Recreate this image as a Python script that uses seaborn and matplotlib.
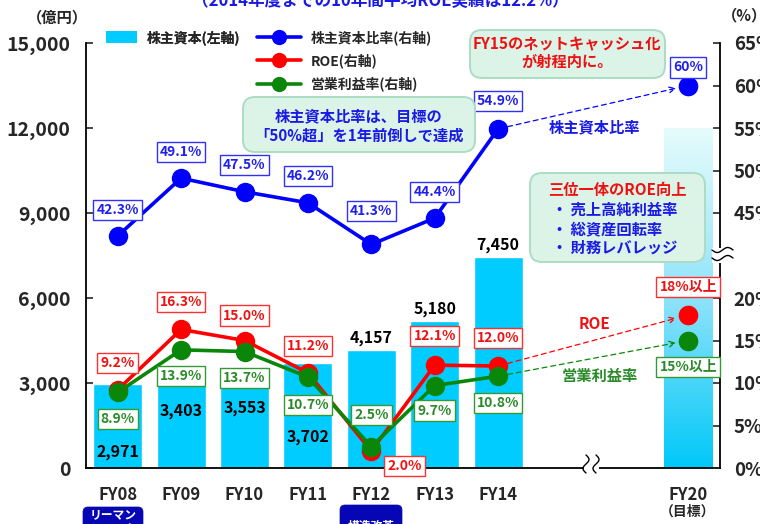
import numpy as np
import matplotlib
matplotlib.use('Agg')
import matplotlib.pyplot as plt
import seaborn as sns
from matplotlib.patches import Patch, FancyBboxPatch, Rectangle
from matplotlib.lines import Line2D
from matplotlib.colors import LinearSegmentedColormap
from matplotlib.transforms import IdentityTransform

# data
years = ['FY08', 'FY09', 'FY10', 'FY11', 'FY12', 'FY13', 'FY14', 'FY20']
equity = [2971, 3403, 3553, 3702, 4157, 5180, 7450, 12000]      # 億円
equity_ratio = [42.3, 49.1, 47.5, 46.2, 41.3, 44.4, 54.9]      # %
roe = [9.2, 16.3, 15.0, 11.2, 2.0, 12.1, 12.0]
op_margin = [8.9, 13.9, 13.7, 10.7, 2.5, 9.7, 10.8]
target_ratio = 60
target_roe = 18
target_margin = 15
target_labels = ['60%', '18%以上', '15%以上']

# layout (FY20 sits after a break in the x axis)
xpos = [0, 1, 2, 3, 4, 5, 6, 9]
bar_label_y = [560, 2010, 2120, 1090, 4590, 5610, 7870]
ratio_dy = [19, 19, 19, 19, 24, 19, 20]
roe_dx = [0, 0, 0, 0, 24, 0, 0]
roe_dy = [19, 20, 18, 19, -11, 21, 20]
margin_dy = [-19, -19, -19, -20, 23, -18, -19]

W, H = 760, 524
BLUE = '#0000ff'
RED = '#ff0000'
GREEN = '#0a870a'
CYAN = '#00ccff'

sns.set_style('white')
plt.rcParams['font.family'] = ['Noto Sans CJK JP', 'DejaVu Sans']
plt.rcParams['font.weight'] = 'bold'


def fx(x):
    return x / W


def fy(y):
    return 1 - y / H


# piecewise right axis: 0-20% in the lower part, 40%+ in the upper part
rv = [-100, 0, 20, 40, 200]
ry = [-30000, 0, 6000, 7500, 55500]


def fwd(v):
    return np.interp(v, rv, ry)


def inv(y):
    return np.interp(y, ry, rv)


fig = plt.figure(figsize=(W / 100, H / 100), dpi=100)
ax = fig.add_axes([fx(86), fy(468), (720 - 86) / W, (468 - 43) / H])

sns.barplot(x=xpos, y=equity, native_scale=True, orient='x', color=CYAN,
            saturation=1, width=0.77, errorbar=None, ax=ax)

# FY20 target bar with a gradient fill
bar20 = ax.patches[-1]
bar20.set_facecolor('none')
cmap = LinearSegmentedColormap.from_list('g', ['#00c8f8', '#8fe3fa', '#e6fcfc'])
grad = np.linspace(0, 1, 256).reshape(-1, 1)
im = ax.imshow(grad, extent=[bar20.get_x(), bar20.get_x() + bar20.get_width(), 0, bar20.get_height()],
               origin='lower', cmap=cmap, aspect='auto', zorder=bar20.get_zorder())
im.set_clip_path(bar20)

ax.set_xlim(-0.5, 9.5)
ax.set_ylim(0, 15000)
ax.set_yticks(range(0, 15001, 3000))
ax.set_yticklabels([f'{v:,}' for v in range(0, 15001, 3000)], fontsize=14)
ax.tick_params(axis='y', direction='in', length=5, width=1.2, pad=11)
ax.set_xticks([0.5, 1.5, 2.5, 3.5, 4.5, 5.5, 6.5, 8.5])
ax.set_xticklabels([])
ax.set_xticks(xpos, years, minor=True)
ax.tick_params(axis='x', which='major', direction='in', length=5, width=1.2)
ax.tick_params(axis='x', which='minor', length=0, pad=13, labelsize=12)
ax.set_xlabel('')
ax.set_ylabel('')
for s in ['top', 'right']:
    ax.spines[s].set_visible(False)
for s in ['left', 'bottom']:
    ax.spines[s].set_linewidth(1.3)
    ax.spines[s].set_color('black')

for i in range(7):
    ax.text(xpos[i], bar_label_y[i], f'{equity[i]:,}', ha='center', va='center',
            fontsize=11.5, color='black')

# right axis
ax2 = ax.twinx()
ax2.set_yscale('function', functions=(fwd, inv))
ax2.set_ylim(0, 65)
rticks = [0, 5, 10, 15, 20, 45, 50, 55, 60, 65]
ax2.set_yticks(rticks)
ax2.set_yticklabels([f'{v}%' for v in rticks], fontsize=13.5)
ax2.tick_params(axis='y', direction='in', length=5, width=1.2, pad=10)
for s in ['top', 'left', 'bottom']:
    ax2.spines[s].set_visible(False)
ax2.spines['right'].set_linewidth(1.3)
ax2.spines['right'].set_color('black')

line_kw = dict(marker='o', markersize=14, markeredgewidth=0, linewidth=2.6)
sns.lineplot(x=xpos[:7], y=equity_ratio, color=BLUE, ax=ax2, **line_kw)
sns.lineplot(x=xpos[:7], y=roe, color=RED, ax=ax2, **line_kw)
sns.lineplot(x=xpos[:7], y=op_margin, color=GREEN, ax=ax2, **line_kw)
sns.scatterplot(x=[xpos[7]], y=[target_ratio], color=BLUE, s=200, linewidth=0, ax=ax2, zorder=4)
sns.scatterplot(x=[xpos[7]], y=[target_roe], color=RED, s=200, linewidth=0, ax=ax2, zorder=4)
sns.scatterplot(x=[xpos[7]], y=[target_margin], color=GREEN, s=200, linewidth=0, ax=ax2, zorder=4)
ax2.set_ylabel('')

# dashed arrows towards targets
for src, dst, col in [(equity_ratio[6], target_ratio, BLUE), (roe[6], target_roe, RED),
                      (op_margin[6], target_margin, GREEN)]:
    ax2.annotate('', xy=(xpos[7], dst), xytext=(xpos[6], src),
                 arrowprops=dict(arrowstyle='->', color=col, lw=0.9, linestyle=(0, (4, 3)),
                                 shrinkA=7, shrinkB=9, mutation_scale=10))


def tag(x, y, text, color, dx, dy, ec=None):
    ax2.annotate(text, (x, y), xytext=(dx, dy), textcoords='offset points',
                 ha='center', va='center', color=color, fontsize=10,
                 bbox=dict(boxstyle='square,pad=0.22', fc='white', ec=ec or color, lw=1.0),
                 zorder=6)


for i in range(7):
    tag(xpos[i], equity_ratio[i], f'{equity_ratio[i]}%', '#2020ee', 0, ratio_dy[i], '#3030ff')
    tag(xpos[i], roe[i], f'{roe[i]}%', '#ee1111', roe_dx[i], roe_dy[i], '#ff3030')
    tag(xpos[i], op_margin[i], f'{op_margin[i]}%', '#2a8a2a', 0, margin_dy[i], '#339933')
tag(xpos[7], target_ratio, target_labels[0], '#2020ee', 0, 13, '#3030ff')
tag(xpos[7], target_roe, target_labels[1], '#ee1111', 0, 20, '#ff3030')
tag(xpos[7], target_margin, target_labels[2], '#2a8a2a', 0, -19, '#339933')

# legend
leg1 = ax.legend(handles=[Patch(facecolor=CYAN, edgecolor='none')], labels=['株主資本(左軸)'],
                 loc='upper left', bbox_to_anchor=(fx(106), fy(30)), bbox_transform=fig.transFigure,
                 frameon=False, fontsize=10, handlelength=2.2, handleheight=0.85,
                 handletextpad=0.7, borderpad=0, borderaxespad=0)
ax.add_artist(leg1)
lh = [Line2D([], [], color=c, marker='o', markersize=11, markeredgewidth=0, lw=2.6)
      for c in [BLUE, RED, GREEN]]
ax2.legend(handles=lh, labels=['株主資本比率(右軸)', 'ROE(右軸)', '営業利益率(右軸)'],
           loc='upper left', bbox_to_anchor=(fx(257), fy(30)), bbox_transform=fig.transFigure,
           frameon=False, fontsize=10, handlelength=3.2, handletextpad=0.7,
           labelspacing=0.62, borderpad=0, borderaxespad=0)


def note_box(x0, y0, x1, y1, fc='#dcf4e8', ec='#acdcc4', r=12, lw=1.4):
    p = FancyBboxPatch((x0, H - y1), x1 - x0, y1 - y0,
                       boxstyle=f'round,pad=0,rounding_size={r}',
                       transform=IdentityTransform(), fc=fc, ec=ec, lw=lw, zorder=7)
    fig.add_artist(p)


note_box(243, 97, 475, 152)
fig.text(fx(359), fy(126), '株主資本比率は、目標の\n「50%超」を1年前倒しで達成', ha='center', va='center',
         fontsize=11, color='#1a1ae6', linespacing=1.2, zorder=8)
note_box(470, 30, 665, 78)
fig.text(fx(567), fy(53), 'FY15のネットキャッシュ化\nが射程内に。', ha='center', va='center',
         fontsize=11, color='#ee1111', linespacing=1.1, zorder=8)
note_box(530, 173, 705, 262)
fig.text(fx(617), fy(190), '三位一体のROE向上', ha='center', va='center', fontsize=11,
         color='#ee1111', zorder=8)
for yy, t in [(210, '・ 売上高純利益率'), (229, '・ 総資産回転率'), (248, '・ 財務レバレッジ')]:
    fig.text(fx(552), fy(yy), t, ha='left', va='center', fontsize=11, color='#1a1ae6', zorder=8)

fig.text(fx(594), fy(127), '株主資本比率', ha='center', va='center', fontsize=11, color='#1a1ae6')
fig.text(fx(595), fy(324), 'ROE', ha='center', va='center', fontsize=11, color='#ee1111')
fig.text(fx(600), fy(376), '営業利益率', ha='center', va='center', fontsize=11, color='#2a8a2a')

# titles and units
fig.text(fx(380), fy(1), '（2014年度までの10年間平均ROE実績は12.2%）', ha='center', va='center',
         fontsize=12, color='#1a1ae6')
fig.text(fx(57), fy(17), '（億円）', ha='center', va='center', fontsize=11)
fig.text(fx(744), fy(15), '（%）', ha='center', va='center', fontsize=11)
fig.text(fx(688), fy(512), '（目標）', ha='center', va='center', fontsize=10)

# event tags under the x axis
for x0, x1, y0, t, ty in [(83, 143, 507, 'リーマン\nショック', 522), (340, 402, 505, '構造改革', 526)]:
    note_box(x0, y0, x1, y0 + 40, fc='#0606b4', ec='#0606b4', r=5, lw=0.5)
    fig.text(fx((x0 + x1) / 2), fy(ty), t, ha='center', va='center', fontsize=8.5,
             color='white', zorder=9, linespacing=1.1)


# axis break marks
def wave(pts):
    fig.add_artist(Line2D([p[0] for p in pts], [H - p[1] for p in pts], color='black', lw=1.0,
                          transform=IdentityTransform(), zorder=10))


fig.add_artist(Rectangle((712, H - 263), 22, 15, transform=IdentityTransform(), fc='white',
                         ec='none', zorder=9))
t = np.linspace(0, 1, 40)
for yy in [250, 258]:
    wave(list(zip(712 + 21 * t, yy + 2.5 * np.sin(2 * np.pi * t))))
fig.add_artist(Rectangle((584, H - 476), 15, 16, transform=IdentityTransform(), fc='white',
                         ec='none', zorder=9))
for xx in [586, 596]:
    wave(list(zip(xx + 3 * np.sin(2 * np.pi * t), 455 + 18 * t)))

fig.savefig('out.png', dpi=100)
